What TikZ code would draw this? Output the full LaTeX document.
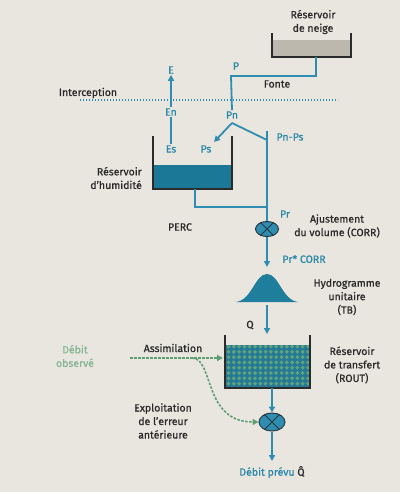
\documentclass[tikz,border=0pt]{standalone}
\usepackage{fontspec}
\setmainfont{Fira Sans}[FakeBold=0.8]
\usetikzlibrary{arrows.meta,shapes.geometric}
\definecolor{bg}{HTML}{E9E6DF}
\definecolor{tline}{HTML}{2E8DB0}
\definecolor{ttext}{HTML}{2A88A8}
\definecolor{tdark}{HTML}{1B7896}
\definecolor{tbell}{HTML}{1F7E9C}
\definecolor{gline}{HTML}{5E9F72}
\definecolor{gtext}{HTML}{86B595}
\definecolor{gfill}{HTML}{5FA57C}
\definecolor{wall}{HTML}{2B2B2B}
\definecolor{snow}{HTML}{BCB8AE}
\definecolor{ink}{HTML}{2A2A2A}
\tikzset{
  lbl/.style={font=\fontsize{10.5}{13.5}\selectfont, text=ink, inner sep=1pt, align=center},
  tlbl/.style={lbl, text=ttext},
  glbl/.style={lbl, text=gtext},
  wallline/.style={draw=wall, line width=1.4pt},
  tpipe/.style={draw=tline, line width=1.8pt},
  arr/.style={-{Triangle[width=6pt,length=6pt]}},
  gdash/.style={draw=gline, line width=1.6pt, dash pattern=on 2.5pt off 1.5pt},
  mult/.style={ellipse, draw=wall!80!tdark, line width=1pt, fill=tline, minimum width=23pt, minimum height=15pt, inner sep=0pt},
}
\begin{document}
\begin{tikzpicture}[x=1pt,y=-1pt]
\useasboundingbox (0,0) rectangle (400,492);
\fill[bg] (0,0) rectangle (400,492);

% snow reservoir
\fill[snow] (272,40) rectangle (351,57);
\draw[wallline] (272,33) -- (272,57) -- (351,57) -- (351,33);
\node[lbl] (snowlbl) at (313,22) {Réservoir\\de neige};
\coordinate (snowout) at (316,57);
\coordinate (fc1) at (316,76);
\coordinate (fc2) at (231,76);
\node[tlbl] (P) at (236,66) {P};
\node[lbl] (fonte) at (277,84) {Fonte};

% interception
\coordinate (ia) at (80,100);
\coordinate (ib) at (338,100);
\draw[draw=tline, line width=1.3pt, dash pattern=on 1.3pt off 1.7pt] (ia) -- (ib);
\node[lbl] (interc) at (88,93) {Interception};

% evaporation
\node[tlbl] (E) at (171,70) {E};
\node[tlbl] (En) at (171,112) {En};
\node[tlbl] (Es) at (171,149) {Es};
\draw[tpipe] (Es) -- (En);
\draw[tpipe,arr] (En) -- (E);

% precipitation
\node[tlbl] (Pn) at (232,115) {Pn};
\draw[tpipe] (snowout) -- (fc1) -- (fc2) -- (Pn.north);
\node[tlbl] (Ps) at (206,149) {Ps};
\node[tlbl] (PnPs) at (290,137) {Pn-Ps};
\coordinate (pk) at (232,123);
\coordinate (psend) at (214,142);
\coordinate (pr1) at (267,140);
\coordinate (prtop) at (267,131);
\draw[tpipe,arr] (pk) -- (psend);
\draw[tpipe] (pk) -- (pr1);

% humidity reservoir
\fill[tdark] (153,165) rectangle (232,189);
\draw[wallline] (153,136) -- (153,189) -- (232,189) -- (232,136);
\node[lbl, align=right, anchor=east] (humlbl) at (143,178) {Réservoir\\d'humidité};
\coordinate (percA) at (195,189);
\coordinate (percB) at (195,207);
\coordinate (percC) at (267,207);
\draw[tpipe] (percA) -- (percB) -- (percC);
\node[lbl] (perc) at (180,227) {PERC};

% CORR multiplier
\node[mult] (corr) at (267,229) {};
\draw[draw=wall!80!tdark, line width=1pt] (corr.45) -- (corr.225) (corr.135) -- (corr.315);
\draw[tpipe] (prtop) -- (corr.north);
\node[tlbl] (Pr) at (285,214) {Pr};
\node[lbl] (ajust) at (337,226) {Ajustement\\du volume (CORR)};
\coordinate (belltop) at (267,267);
\draw[tpipe,arr] (corr.south) -- (belltop);
\node[tlbl] (prcorr) at (304,259) {Pr* CORR};

% unit hydrograph
\fill[tbell] (236,302) .. controls (252,300) and (255,274) .. (267,274) .. controls (279,274) and (282,300) .. (298,302) -- cycle;
\node[lbl] (hydro) at (347,297) {Hydrogramme\\unitaire\\(TB)};
\coordinate (qa) at (267,305);
\coordinate (qb) at (267,334);
\draw[tpipe,arr] (qa) -- (qb);
\node[lbl] (Q) at (250,325) {Q};

% transfer reservoir
\begin{scope}
\clip (225,345) rectangle (310,388);
\fill[tline!85!black] (225,345) rectangle (310,388);
\foreach \i in {0,...,16} \foreach \j in {0,...,8} {
  \fill[gfill] ({226.5+\i*5.3},{346.5+\j*5.3}) -- ++(2,-2) -- ++(2,2) -- ++(-2,2) -- cycle;
}
\end{scope}
\draw[wallline] (225,335) -- (225,388) -- (310,388) -- (310,335);
\node[lbl] (routlbl) at (352,365) {Réservoir\\de transfert\\(ROUT)};

% output multiplier
\node[mult, minimum width=26pt, minimum height=18pt] (err) at (272,422) {};
\draw[draw=wall!80!tdark, line width=1pt] (err.45) -- (err.225) (err.135) -- (err.315);
\coordinate (rout) at (272,388);
\draw[tpipe,arr] (rout) -- (err.north);
\coordinate (outend) at (272,461);
\draw[tpipe,arr] (err.south) -- (outend);
\node[tlbl] (prevu) at (272,472) {Débit prévu \textcolor{ink}{Q̂}};

% observed discharge
\node[glbl] (obs) at (75,356) {Débit\\observé};
\node[lbl] (assim) at (173,348) {Assimilation};
\coordinate (da) at (130,358);
\coordinate (db) at (223,358);
\coordinate (dc) at (192,358);
\draw[gdash, -{Triangle[width=6pt,length=6pt]}, color=gline] (da) -- (db);
\draw[gdash, -{Triangle[width=6pt,length=6pt]}, color=gline] (dc) .. controls (214,358) and (203,422) .. (err.west);
\node[lbl] (exploit) at (163,421) {Exploitation\\de l'erreur\\antérieure};
\end{tikzpicture}
\end{document}
